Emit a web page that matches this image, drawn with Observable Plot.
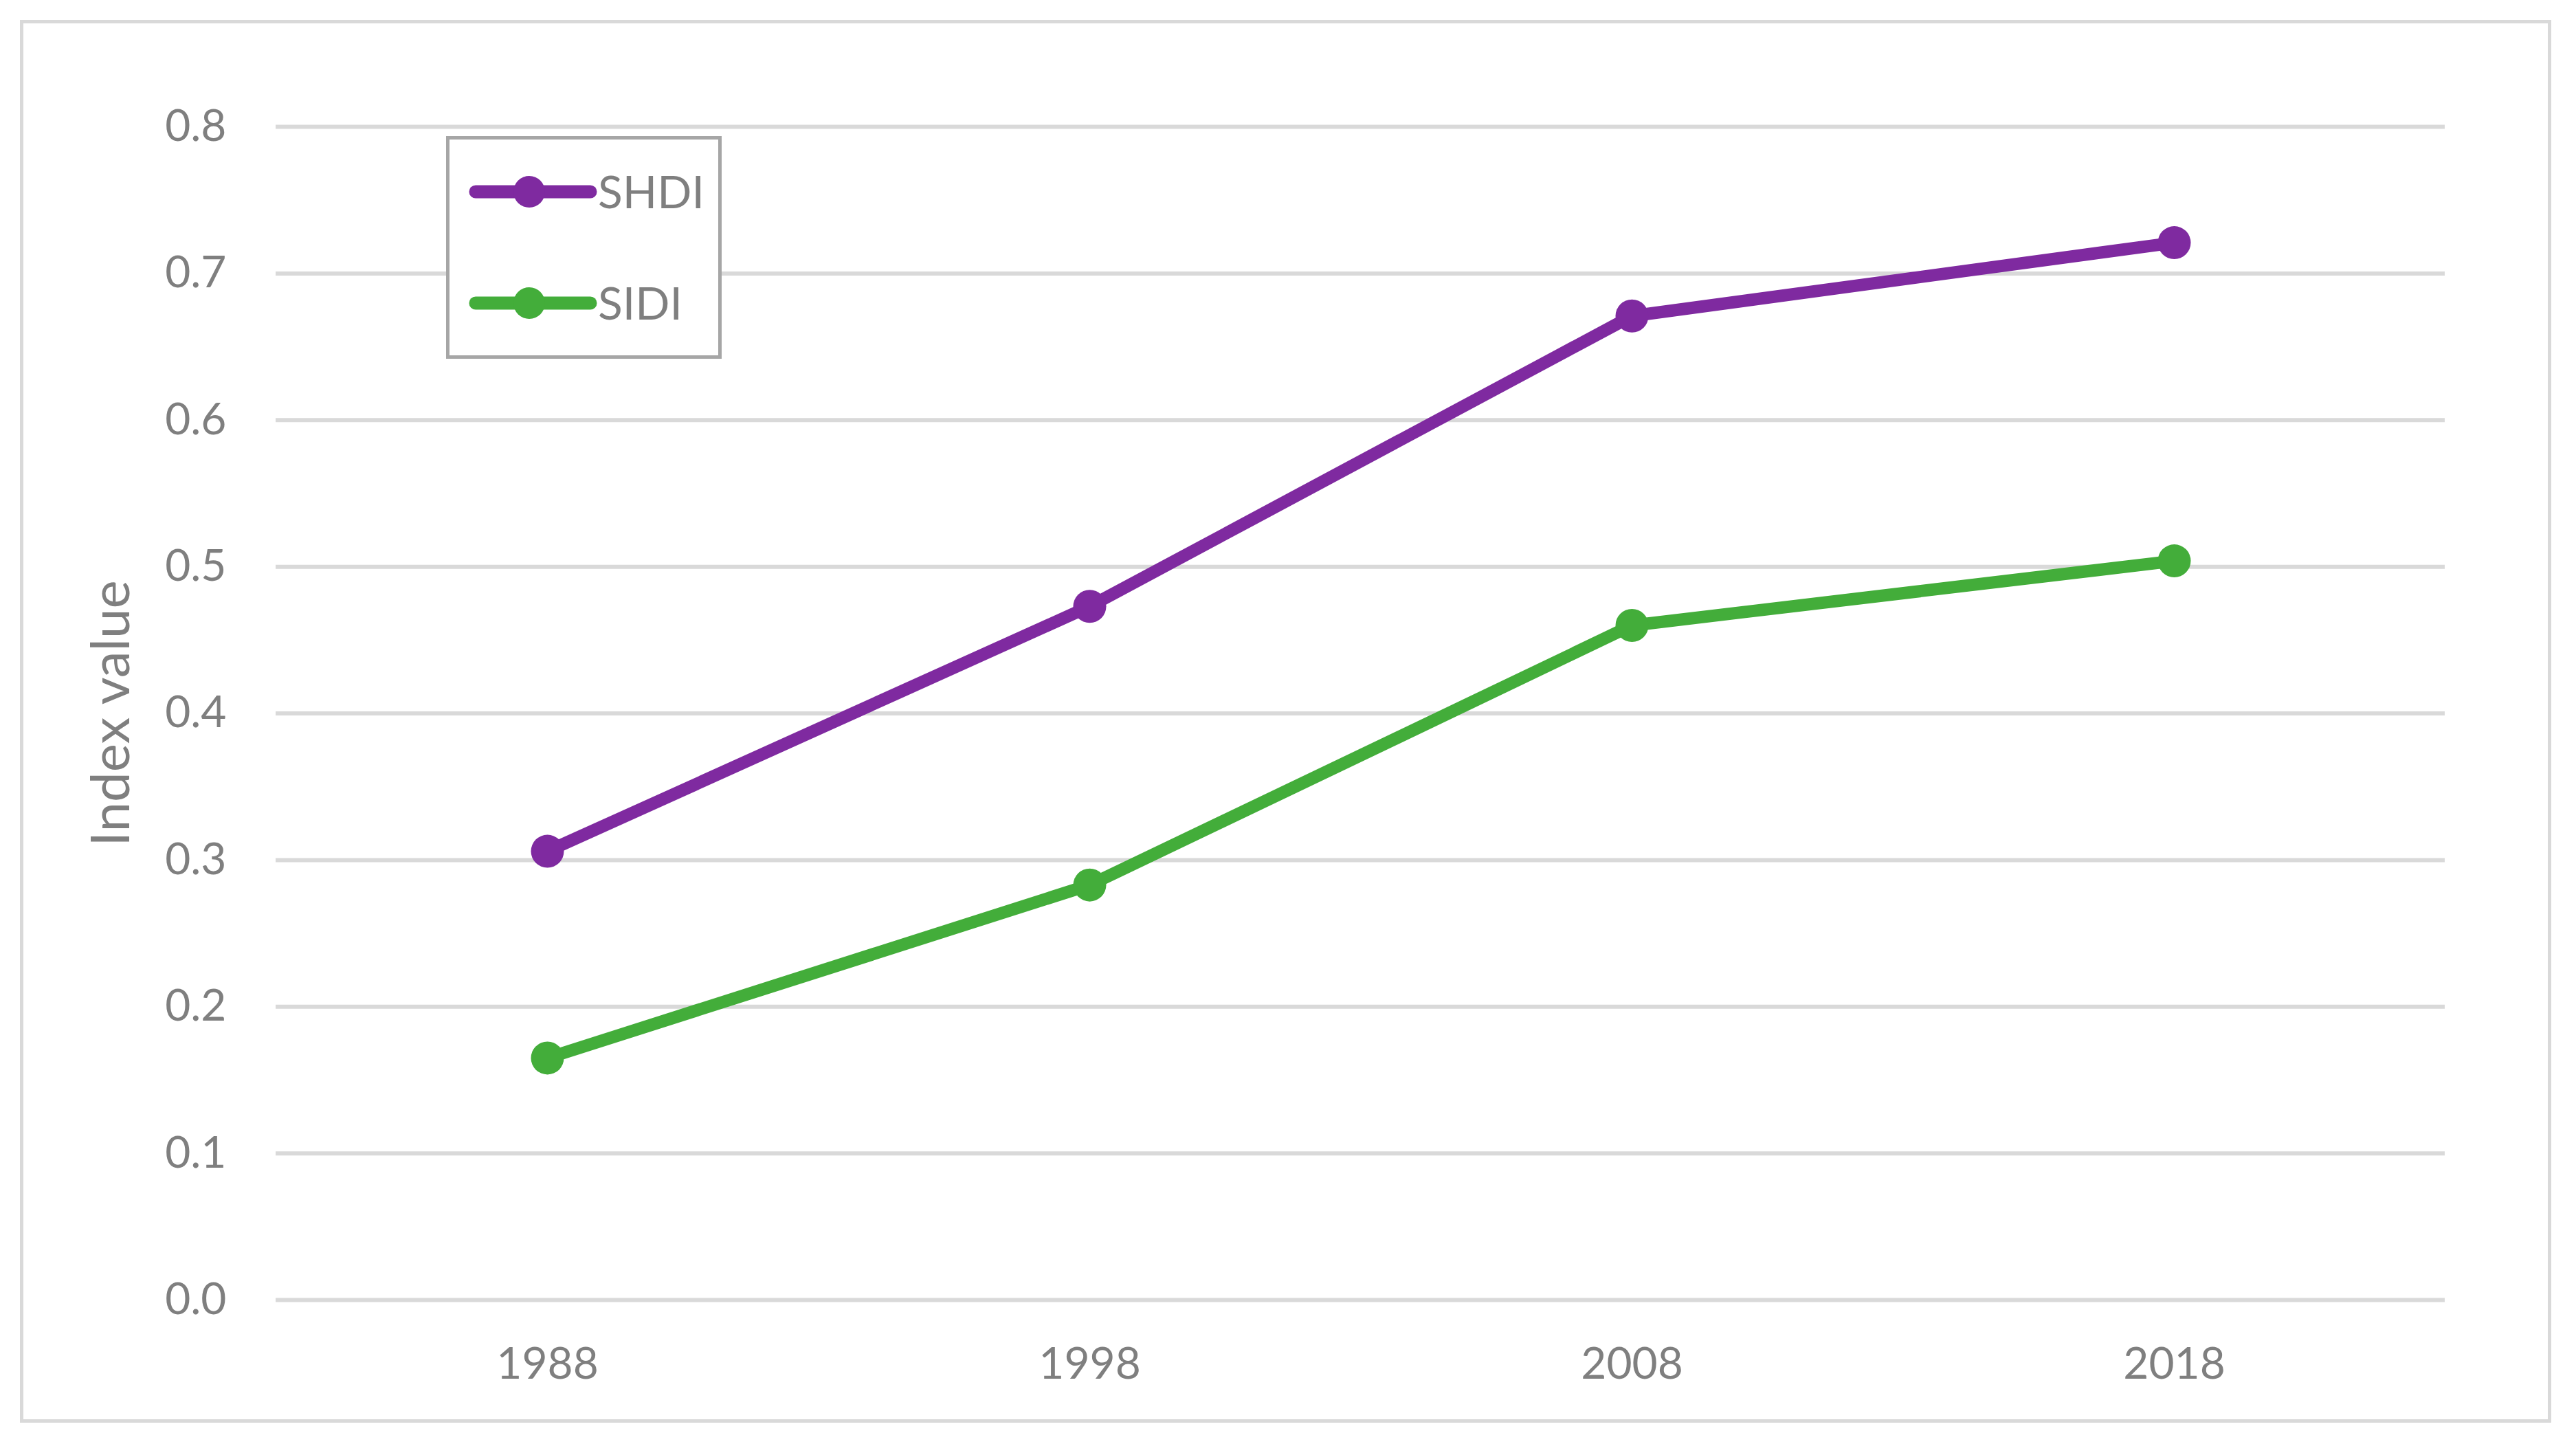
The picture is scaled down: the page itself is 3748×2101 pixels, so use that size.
<!DOCTYPE html>
<html>
<head>
<meta charset="utf-8">
<script src="https://cdn.jsdelivr.net/npm/d3@7"></script>
<script src="https://cdn.jsdelivr.net/npm/@observablehq/plot@0.6"></script>
<style>
  html, body { margin: 0; padding: 0; background: #fff; }
  #wrap { position: relative; width: 3748px; height: 2101px; overflow: hidden; font-family: Lato, sans-serif; }
  #border { position: absolute; left: 29px; top: 29px; width: 3683px; height: 2041px; border: 5px solid #D9D9D9; box-sizing: border-box; pointer-events: none; }
  #legend { position: absolute; left: 649px; top: 198px; width: 401px; height: 324px; border: 5px solid #A6A6A6; box-sizing: border-box; background: #fff; }
</style>
</head>
<body>
<div id="wrap">
  <div id="chart"></div>
  <div id="border"></div>
  <div id="legend"></div>
</div>
<script>
const years = ["1988", "1998", "2008", "2018"];
const shdi = [0.306, 0.473, 0.671, 0.721];
const sidi = [0.165, 0.283, 0.460, 0.504];
const yTicks = [0, 0.1, 0.2, 0.3, 0.4, 0.5, 0.6, 0.7, 0.8];
const seriesNames = ["SHDI", "SIDI"];
const seriesColors = ["#7F2AA0", "#43AD3A"];
const yLabel = "Index value";

const data = [];
years.forEach((yr, i) => {
  data.push({year: yr, value: shdi[i], series: seriesNames[0]});
});
years.forEach((yr, i) => {
  data.push({year: yr, value: sidi[i], series: seriesNames[1]});
});

const chart = Plot.plot({
  width: 3748,
  height: 2101,
  marginLeft: 401,
  marginRight: 191,
  marginTop: 184,
  marginBottom: 210,
  style: {fontFamily: "Lato, sans-serif", fontSize: "64px", color: "#7F7F7F", background: "transparent"},
  x: {type: "point", domain: years, padding: 0.5},
  y: {domain: [0, 0.8]},
  color: {domain: seriesNames, range: seriesColors},
  marks: [
    Plot.ruleY(yTicks, {stroke: "#D9D9D9", strokeWidth: 6}),
    Plot.axisY({ticks: yTicks, tickSize: 0, tickPadding: 72, tickFormat: d3.format(".1f"), label: null, fontSize: 64}),
    Plot.axisX({tickSize: 0, tickPadding: 69, label: null, fontSize: 64}),
    Plot.line(data, {x: "year", y: "value", z: "series", stroke: "series", strokeWidth: 18, strokeLinejoin: "round"}),
    Plot.dot(data, {x: "year", y: "value", fill: "series", r: 24}),
    Plot.text([yLabel], {text: d => d, frameAnchor: "left", textAnchor: "middle", lineAnchor: "middle", rotate: -90, dx: -238, fontSize: 78, fill: "#7F7F7F"})
  ]
});
document.getElementById("chart").appendChild(chart);

// Legend
const lg = d3.select("#legend").append("svg")
  .attr("width", 391).attr("height", 314)
  .style("position", "absolute").style("left", "0px").style("top", "0px");
const rowY = [76, 238];
seriesNames.forEach((name, i) => {
  const g = lg.append("g").attr("transform", `translate(0,${rowY[i]})`);
  g.append("line").attr("x1", 38).attr("x2", 205).attr("y1", 0).attr("y2", 0)
    .attr("stroke", seriesColors[i]).attr("stroke-width", 19).attr("stroke-linecap", "round");
  g.append("circle").attr("cx", 116).attr("cy", 0).attr("r", 23).attr("fill", seriesColors[i]);
  g.append("text").attr("x", 216).attr("y", 0).attr("dy", "0.36em")
    .attr("fill", "#7F7F7F").attr("font-family", "Lato, sans-serif").attr("font-size", 66)
    .text(name);
});
</script>
</body>
</html>
